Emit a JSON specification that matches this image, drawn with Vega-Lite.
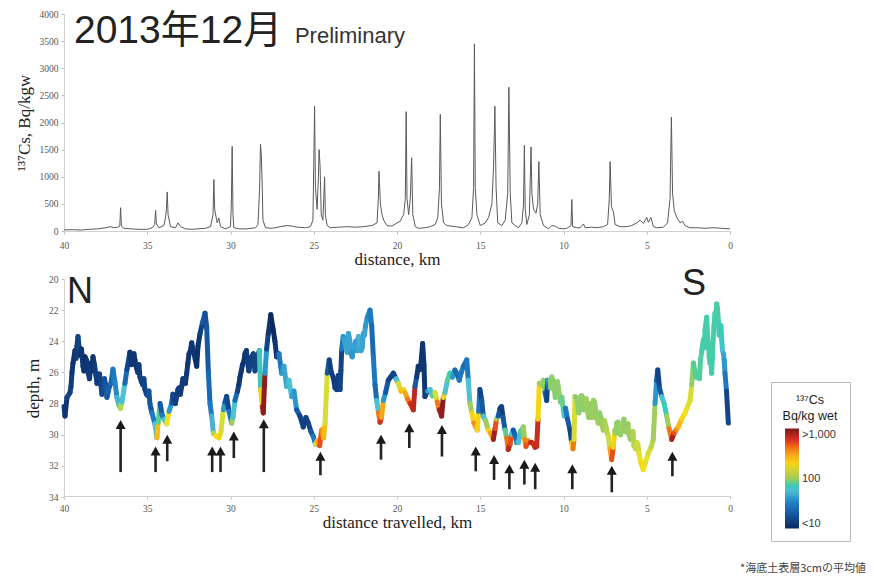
{
  "$schema": "https://vega.github.io/schema/vega-lite/v6.json",
  "width": 666,
  "height": 482,
  "autosize": {"type": "none"},
  "padding": {"left": 64, "top": 14, "right": 144, "bottom": 82},
  "background": "white",
  "config": {
    "view": {"stroke": null},
    "axis": {
      "labelFont": "Liberation Serif",
      "labelFontSize": 9.5,
      "labelColor": "#555",
      "titleFont": "Liberation Serif",
      "titleFontSize": 17,
      "titleFontWeight": "normal",
      "titleColor": "#222",
      "domainColor": "#d0d0d0",
      "tickColor": "#d8bcaa",
      "tickSize": 3,
      "grid": false,
      "labelFlush": false
    }
  },
  "datasets": {
    "sediment": [
      {"km": 40.0, "bq": 20}, {"km": 39.5, "bq": 25}, {"km": 39.0, "bq": 18}, {"km": 38.5, "bq": 30},
      {"km": 38.0, "bq": 40}, {"km": 37.5, "bq": 60}, {"km": 37.2, "bq": 80}, {"km": 37.0, "bq": 60},
      {"km": 36.8, "bq": 70}, {"km": 36.65, "bq": 90}, {"km": 36.6, "bq": 430}, {"km": 36.55, "bq": 90},
      {"km": 36.4, "bq": 50}, {"km": 36.0, "bq": 40}, {"km": 35.5, "bq": 30}, {"km": 35.0, "bq": 30},
      {"km": 34.7, "bq": 60}, {"km": 34.55, "bq": 120}, {"km": 34.5, "bq": 380}, {"km": 34.45, "bq": 130},
      {"km": 34.3, "bq": 60}, {"km": 34.0, "bq": 100}, {"km": 33.9, "bq": 250}, {"km": 33.85, "bq": 400},
      {"km": 33.8, "bq": 720}, {"km": 33.75, "bq": 300}, {"km": 33.6, "bq": 80}, {"km": 33.3, "bq": 60},
      {"km": 33.15, "bq": 150}, {"km": 33.0, "bq": 80}, {"km": 32.7, "bq": 40}, {"km": 32.3, "bq": 30},
      {"km": 32.0, "bq": 40}, {"km": 31.5, "bq": 50}, {"km": 31.2, "bq": 80}, {"km": 31.05, "bq": 300},
      {"km": 31.0, "bq": 950}, {"km": 30.95, "bq": 400}, {"km": 30.8, "bq": 150}, {"km": 30.7, "bq": 240},
      {"km": 30.6, "bq": 80}, {"km": 30.3, "bq": 40}, {"km": 30.0, "bq": 80}, {"km": 29.95, "bq": 500},
      {"km": 29.9, "bq": 1560}, {"km": 29.85, "bq": 300}, {"km": 29.8, "bq": 60}, {"km": 29.5, "bq": 40},
      {"km": 29.0, "bq": 40}, {"km": 28.5, "bq": 60}, {"km": 28.35, "bq": 120}, {"km": 28.25, "bq": 800},
      {"km": 28.2, "bq": 1600}, {"km": 28.15, "bq": 1400}, {"km": 28.1, "bq": 900}, {"km": 28.05, "bq": 200},
      {"km": 27.9, "bq": 60}, {"km": 27.5, "bq": 50}, {"km": 27.0, "bq": 80}, {"km": 26.6, "bq": 100},
      {"km": 26.3, "bq": 90}, {"km": 26.0, "bq": 70}, {"km": 25.5, "bq": 60}, {"km": 25.2, "bq": 80},
      {"km": 25.05, "bq": 200}, {"km": 25.0, "bq": 1200}, {"km": 24.95, "bq": 2300}, {"km": 24.9, "bq": 800},
      {"km": 24.8, "bq": 400}, {"km": 24.72, "bq": 1000}, {"km": 24.68, "bq": 1500}, {"km": 24.62, "bq": 1200},
      {"km": 24.55, "bq": 300}, {"km": 24.45, "bq": 200}, {"km": 24.35, "bq": 1000}, {"km": 24.3, "bq": 300},
      {"km": 24.2, "bq": 100}, {"km": 24.0, "bq": 60}, {"km": 23.5, "bq": 70}, {"km": 23.0, "bq": 80},
      {"km": 22.5, "bq": 70}, {"km": 22.0, "bq": 80}, {"km": 21.5, "bq": 100}, {"km": 21.2, "bq": 150},
      {"km": 21.12, "bq": 600}, {"km": 21.08, "bq": 1100}, {"km": 21.0, "bq": 500}, {"km": 20.9, "bq": 300},
      {"km": 20.8, "bq": 200}, {"km": 20.6, "bq": 100}, {"km": 20.3, "bq": 90}, {"km": 20.0, "bq": 150},
      {"km": 19.8, "bq": 180}, {"km": 19.7, "bq": 250}, {"km": 19.6, "bq": 300}, {"km": 19.5, "bq": 600},
      {"km": 19.45, "bq": 2200}, {"km": 19.4, "bq": 600}, {"km": 19.3, "bq": 300}, {"km": 19.2, "bq": 600},
      {"km": 19.12, "bq": 1350}, {"km": 19.05, "bq": 300}, {"km": 18.9, "bq": 80}, {"km": 18.7, "bq": 50},
      {"km": 18.3, "bq": 60}, {"km": 18.0, "bq": 80}, {"km": 17.7, "bq": 120}, {"km": 17.55, "bq": 250},
      {"km": 17.45, "bq": 800}, {"km": 17.4, "bq": 2150}, {"km": 17.33, "bq": 500}, {"km": 17.2, "bq": 150},
      {"km": 17.0, "bq": 100}, {"km": 16.5, "bq": 80}, {"km": 16.0, "bq": 60}, {"km": 15.7, "bq": 120},
      {"km": 15.5, "bq": 250}, {"km": 15.4, "bq": 800}, {"km": 15.35, "bq": 3450}, {"km": 15.3, "bq": 800},
      {"km": 15.2, "bq": 300}, {"km": 15.0, "bq": 100}, {"km": 14.7, "bq": 150}, {"km": 14.5, "bq": 250},
      {"km": 14.3, "bq": 500}, {"km": 14.2, "bq": 1200}, {"km": 14.12, "bq": 2300}, {"km": 14.05, "bq": 800},
      {"km": 13.95, "bq": 150}, {"km": 13.7, "bq": 100}, {"km": 13.5, "bq": 200}, {"km": 13.35, "bq": 700},
      {"km": 13.28, "bq": 2650}, {"km": 13.2, "bq": 700}, {"km": 13.1, "bq": 150}, {"km": 12.9, "bq": 100},
      {"km": 12.7, "bq": 60}, {"km": 12.5, "bq": 150}, {"km": 12.4, "bq": 500}, {"km": 12.35, "bq": 1580},
      {"km": 12.3, "bq": 400}, {"km": 12.2, "bq": 120}, {"km": 12.05, "bq": 300}, {"km": 11.95, "bq": 1550},
      {"km": 11.9, "bq": 700}, {"km": 11.8, "bq": 400}, {"km": 11.65, "bq": 330}, {"km": 11.55, "bq": 500},
      {"km": 11.48, "bq": 1280}, {"km": 11.4, "bq": 300}, {"km": 11.2, "bq": 100}, {"km": 10.9, "bq": 40},
      {"km": 10.7, "bq": 100}, {"km": 10.5, "bq": 90}, {"km": 10.3, "bq": 50}, {"km": 10.0, "bq": 40},
      {"km": 9.8, "bq": 50}, {"km": 9.55, "bq": 100}, {"km": 9.5, "bq": 580}, {"km": 9.45, "bq": 80},
      {"km": 9.2, "bq": 60}, {"km": 9.0, "bq": 60}, {"km": 8.8, "bq": 130}, {"km": 8.7, "bq": 60},
      {"km": 8.3, "bq": 70}, {"km": 8.0, "bq": 60}, {"km": 7.6, "bq": 80}, {"km": 7.35, "bq": 120},
      {"km": 7.25, "bq": 600}, {"km": 7.2, "bq": 1280}, {"km": 7.12, "bq": 450}, {"km": 7.0, "bq": 350},
      {"km": 6.9, "bq": 120}, {"km": 6.6, "bq": 80}, {"km": 6.2, "bq": 80}, {"km": 5.9, "bq": 100},
      {"km": 5.6, "bq": 150}, {"km": 5.4, "bq": 200}, {"km": 5.2, "bq": 140}, {"km": 5.0, "bq": 250},
      {"km": 4.9, "bq": 160}, {"km": 4.75, "bq": 250}, {"km": 4.6, "bq": 80}, {"km": 4.4, "bq": 60},
      {"km": 4.0, "bq": 70}, {"km": 3.75, "bq": 150}, {"km": 3.6, "bq": 600}, {"km": 3.52, "bq": 2100},
      {"km": 3.45, "bq": 700}, {"km": 3.35, "bq": 380}, {"km": 3.2, "bq": 250}, {"km": 3.0, "bq": 150},
      {"km": 2.85, "bq": 180}, {"km": 2.7, "bq": 100}, {"km": 2.4, "bq": 60}, {"km": 2.0, "bq": 60},
      {"km": 1.5, "bq": 50}, {"km": 1.0, "bq": 60}, {"km": 0.5, "bq": 50}, {"km": 0.0, "bq": 40}
    ],
    "profile": [
      {"km": 40.0, "depth": 28.2, "bq": 15}, {"km": 39.94, "depth": 28.8, "bq": 12}, {"km": 39.82, "depth": 27.6, "bq": 15},
      {"km": 39.64, "depth": 27.3, "bq": 14}, {"km": 39.58, "depth": 26.9, "bq": 13}, {"km": 39.52, "depth": 26.0, "bq": 12},
      {"km": 39.46, "depth": 25.4, "bq": 12}, {"km": 39.34, "depth": 24.6, "bq": 12}, {"km": 39.28, "depth": 25.1, "bq": 13},
      {"km": 39.22, "depth": 24.3, "bq": 14}, {"km": 39.16, "depth": 23.7, "bq": 15}, {"km": 39.04, "depth": 24.9, "bq": 12},
      {"km": 38.95, "depth": 24.5, "bq": 12}, {"km": 38.86, "depth": 25.6, "bq": 12}, {"km": 38.8, "depth": 25.9, "bq": 12},
      {"km": 38.74, "depth": 25.0, "bq": 11}, {"km": 38.65, "depth": 25.2, "bq": 12}, {"km": 38.56, "depth": 26.0, "bq": 13},
      {"km": 38.47, "depth": 26.4, "bq": 13}, {"km": 38.38, "depth": 25.4, "bq": 12}, {"km": 38.32, "depth": 25.9, "bq": 12},
      {"km": 38.26, "depth": 25.0, "bq": 12}, {"km": 38.17, "depth": 25.5, "bq": 13}, {"km": 38.08, "depth": 26.2, "bq": 14},
      {"km": 38.02, "depth": 26.7, "bq": 14}, {"km": 37.96, "depth": 26.5, "bq": 13}, {"km": 37.87, "depth": 26.1, "bq": 14},
      {"km": 37.78, "depth": 26.8, "bq": 15}, {"km": 37.72, "depth": 27.4, "bq": 16}, {"km": 37.66, "depth": 27.1, "bq": 17},
      {"km": 37.57, "depth": 26.4, "bq": 18}, {"km": 37.48, "depth": 26.9, "bq": 20}, {"km": 37.42, "depth": 27.6, "bq": 20},
      {"km": 37.36, "depth": 27.3, "bq": 22}, {"km": 37.27, "depth": 26.9, "bq": 22}, {"km": 37.18, "depth": 26.7, "bq": 25},
      {"km": 37.06, "depth": 25.8, "bq": 30}, {"km": 36.94, "depth": 26.6, "bq": 35}, {"km": 36.82, "depth": 27.6, "bq": 50},
      {"km": 36.7, "depth": 28.1, "bq": 80}, {"km": 36.61, "depth": 28.3, "bq": 120}, {"km": 36.52, "depth": 27.9, "bq": 60},
      {"km": 36.34, "depth": 26.7, "bq": 25}, {"km": 36.22, "depth": 25.8, "bq": 15}, {"km": 36.04, "depth": 24.7, "bq": 12},
      {"km": 35.95, "depth": 25.5, "bq": 12}, {"km": 35.86, "depth": 25.1, "bq": 12}, {"km": 35.8, "depth": 24.8, "bq": 12},
      {"km": 35.74, "depth": 25.2, "bq": 12}, {"km": 35.65, "depth": 25.7, "bq": 12}, {"km": 35.56, "depth": 26.0, "bq": 13},
      {"km": 35.5, "depth": 25.5, "bq": 13}, {"km": 35.44, "depth": 26.3, "bq": 14}, {"km": 35.35, "depth": 26.6, "bq": 14},
      {"km": 35.26, "depth": 26.8, "bq": 15}, {"km": 35.2, "depth": 26.4, "bq": 15}, {"km": 35.14, "depth": 27.1, "bq": 15},
      {"km": 35.05, "depth": 27.4, "bq": 16}, {"km": 34.96, "depth": 27.5, "bq": 18}, {"km": 34.9, "depth": 27.2, "bq": 18},
      {"km": 34.84, "depth": 28.0, "bq": 20}, {"km": 34.78, "depth": 28.3, "bq": 20}, {"km": 34.72, "depth": 28.6, "bq": 30},
      {"km": 34.54, "depth": 29.3, "bq": 60}, {"km": 34.42, "depth": 30.2, "bq": 250}, {"km": 34.34, "depth": 29.2, "bq": 80},
      {"km": 34.23, "depth": 28.0, "bq": 20}, {"km": 34.11, "depth": 28.7, "bq": 30}, {"km": 33.99, "depth": 29.0, "bq": 60},
      {"km": 33.83, "depth": 29.3, "bq": 180}, {"km": 33.69, "depth": 28.5, "bq": 40}, {"km": 33.53, "depth": 27.96, "bq": 20},
      {"km": 33.46, "depth": 27.4, "bq": 15}, {"km": 33.39, "depth": 27.8, "bq": 15}, {"km": 33.31, "depth": 28.0, "bq": 14},
      {"km": 33.23, "depth": 27.55, "bq": 14}, {"km": 33.16, "depth": 27.1, "bq": 14}, {"km": 33.09, "depth": 27.0, "bq": 14},
      {"km": 33.01, "depth": 27.4, "bq": 13}, {"km": 32.93, "depth": 26.9, "bq": 13}, {"km": 32.86, "depth": 26.4, "bq": 13},
      {"km": 32.79, "depth": 26.4, "bq": 13}, {"km": 32.71, "depth": 26.7, "bq": 13}, {"km": 32.63, "depth": 26.05, "bq": 12},
      {"km": 32.56, "depth": 25.4, "bq": 12}, {"km": 32.49, "depth": 24.8, "bq": 12}, {"km": 32.41, "depth": 24.6, "bq": 12},
      {"km": 32.33, "depth": 24.1, "bq": 12}, {"km": 32.26, "depth": 24.5, "bq": 12}, {"km": 32.19, "depth": 24.8, "bq": 12},
      {"km": 32.11, "depth": 25.2, "bq": 12}, {"km": 32.03, "depth": 25.6, "bq": 11}, {"km": 31.95, "depth": 24.3, "bq": 12},
      {"km": 31.83, "depth": 23.5, "bq": 14}, {"km": 31.68, "depth": 22.8, "bq": 20}, {"km": 31.53, "depth": 22.2, "bq": 18},
      {"km": 31.43, "depth": 23.1, "bq": 20}, {"km": 31.33, "depth": 26.0, "bq": 25}, {"km": 31.23, "depth": 28.0, "bq": 30},
      {"km": 31.13, "depth": 28.8, "bq": 50}, {"km": 31.03, "depth": 29.9, "bq": 120}, {"km": 30.87, "depth": 30.1, "bq": 180},
      {"km": 30.69, "depth": 30.2, "bq": 200}, {"km": 30.57, "depth": 29.8, "bq": 150}, {"km": 30.43, "depth": 28.4, "bq": 40},
      {"km": 30.33, "depth": 27.9, "bq": 20}, {"km": 30.23, "depth": 27.55, "bq": 15}, {"km": 30.09, "depth": 28.5, "bq": 30},
      {"km": 29.93, "depth": 29.25, "bq": 100}, {"km": 29.85, "depth": 28.9, "bq": 60}, {"km": 29.73, "depth": 27.8, "bq": 25},
      {"km": 29.58, "depth": 27.2, "bq": 15}, {"km": 29.5, "depth": 26.8, "bq": 12}, {"km": 29.43, "depth": 26.3, "bq": 12},
      {"km": 29.35, "depth": 25.9, "bq": 12}, {"km": 29.28, "depth": 25.5, "bq": 12}, {"km": 29.2, "depth": 25.3, "bq": 12},
      {"km": 29.13, "depth": 24.8, "bq": 12}, {"km": 29.05, "depth": 24.6, "bq": 13}, {"km": 28.98, "depth": 25.3, "bq": 14},
      {"km": 28.9, "depth": 25.9, "bq": 14}, {"km": 28.83, "depth": 25.6, "bq": 14}, {"km": 28.73, "depth": 25.0, "bq": 14},
      {"km": 28.63, "depth": 24.8, "bq": 14}, {"km": 28.53, "depth": 25.9, "bq": 15}, {"km": 28.43, "depth": 25.6, "bq": 15},
      {"km": 28.35, "depth": 24.9, "bq": 15}, {"km": 28.27, "depth": 24.6, "bq": 70}, {"km": 28.19, "depth": 27.1, "bq": 200},
      {"km": 28.09, "depth": 28.2, "bq": 700}, {"km": 28.03, "depth": 28.6, "bq": 900}, {"km": 27.93, "depth": 26.05, "bq": 40},
      {"km": 27.83, "depth": 24.5, "bq": 15}, {"km": 27.73, "depth": 23.5, "bq": 12}, {"km": 27.58, "depth": 22.3, "bq": 10},
      {"km": 27.43, "depth": 23.3, "bq": 10}, {"km": 27.33, "depth": 24.0, "bq": 12}, {"km": 27.23, "depth": 25.0, "bq": 14},
      {"km": 27.09, "depth": 24.8, "bq": 30}, {"km": 26.93, "depth": 26.05, "bq": 40}, {"km": 26.79, "depth": 25.6, "bq": 45},
      {"km": 26.63, "depth": 26.9, "bq": 50}, {"km": 26.49, "depth": 26.5, "bq": 60}, {"km": 26.33, "depth": 27.55, "bq": 45},
      {"km": 26.19, "depth": 27.2, "bq": 40}, {"km": 26.03, "depth": 28.4, "bq": 20}, {"km": 25.83, "depth": 28.8, "bq": 15},
      {"km": 25.63, "depth": 29.5, "bq": 14}, {"km": 25.47, "depth": 28.9, "bq": 14}, {"km": 25.33, "depth": 29.25, "bq": 15},
      {"km": 25.17, "depth": 29.8, "bq": 20}, {"km": 25.03, "depth": 30.1, "bq": 30}, {"km": 24.9, "depth": 30.6, "bq": 150},
      {"km": 24.79, "depth": 30.4, "bq": 300}, {"km": 24.65, "depth": 30.7, "bq": 500}, {"km": 24.52, "depth": 29.7, "bq": 350},
      {"km": 24.41, "depth": 30.2, "bq": 250}, {"km": 24.32, "depth": 29.25, "bq": 150}, {"km": 24.19, "depth": 26.05, "bq": 20},
      {"km": 24.07, "depth": 25.2, "bq": 14}, {"km": 23.95, "depth": 26.0, "bq": 14}, {"km": 23.83, "depth": 26.3, "bq": 13},
      {"km": 23.72, "depth": 27.0, "bq": 14}, {"km": 23.62, "depth": 27.1, "bq": 14}, {"km": 23.52, "depth": 26.2, "bq": 14},
      {"km": 23.42, "depth": 27.1, "bq": 15}, {"km": 23.37, "depth": 25.9, "bq": 15}, {"km": 23.32, "depth": 24.5, "bq": 30},
      {"km": 23.23, "depth": 23.7, "bq": 40}, {"km": 23.15, "depth": 23.9, "bq": 45}, {"km": 23.06, "depth": 24.4, "bq": 45},
      {"km": 22.99, "depth": 24.7, "bq": 45}, {"km": 22.92, "depth": 23.5, "bq": 45}, {"km": 22.84, "depth": 23.9, "bq": 45},
      {"km": 22.76, "depth": 24.8, "bq": 40}, {"km": 22.69, "depth": 25.0, "bq": 40}, {"km": 22.62, "depth": 24.4, "bq": 45},
      {"km": 22.54, "depth": 24.2, "bq": 45}, {"km": 22.46, "depth": 24.0, "bq": 40}, {"km": 22.39, "depth": 24.6, "bq": 45},
      {"km": 22.32, "depth": 23.7, "bq": 50}, {"km": 22.24, "depth": 23.8, "bq": 50}, {"km": 22.16, "depth": 24.6, "bq": 45},
      {"km": 22.09, "depth": 24.4, "bq": 45}, {"km": 22.02, "depth": 23.5, "bq": 45}, {"km": 21.95, "depth": 23.6, "bq": 45},
      {"km": 21.89, "depth": 23.0, "bq": 40}, {"km": 21.78, "depth": 22.45, "bq": 35}, {"km": 21.62, "depth": 22.0, "bq": 30},
      {"km": 21.52, "depth": 23.0, "bq": 25}, {"km": 21.42, "depth": 25.0, "bq": 30}, {"km": 21.32, "depth": 26.8, "bq": 25},
      {"km": 21.22, "depth": 27.8, "bq": 60}, {"km": 21.11, "depth": 28.6, "bq": 400}, {"km": 21.02, "depth": 29.2, "bq": 600},
      {"km": 20.93, "depth": 28.9, "bq": 300}, {"km": 20.82, "depth": 27.8, "bq": 40}, {"km": 20.69, "depth": 27.3, "bq": 20},
      {"km": 20.52, "depth": 26.5, "bq": 15}, {"km": 20.39, "depth": 26.3, "bq": 14}, {"km": 20.22, "depth": 26.05, "bq": 15},
      {"km": 20.06, "depth": 26.4, "bq": 60}, {"km": 19.92, "depth": 26.7, "bq": 150}, {"km": 19.76, "depth": 27.2, "bq": 250},
      {"km": 19.62, "depth": 27.1, "bq": 200}, {"km": 19.52, "depth": 27.3, "bq": 300}, {"km": 19.37, "depth": 27.7, "bq": 400},
      {"km": 19.22, "depth": 27.98, "bq": 600}, {"km": 19.02, "depth": 28.4, "bq": 700}, {"km": 18.92, "depth": 26.9, "bq": 20},
      {"km": 18.82, "depth": 26.3, "bq": 12}, {"km": 18.72, "depth": 25.6, "bq": 12}, {"km": 18.59, "depth": 25.8, "bq": 12},
      {"km": 18.46, "depth": 24.15, "bq": 12}, {"km": 18.38, "depth": 25.5, "bq": 12}, {"km": 18.32, "depth": 27.55, "bq": 14},
      {"km": 18.17, "depth": 27.2, "bq": 40}, {"km": 18.02, "depth": 27.1, "bq": 60}, {"km": 17.87, "depth": 27.5, "bq": 80},
      {"km": 17.72, "depth": 27.3, "bq": 150}, {"km": 17.58, "depth": 27.9, "bq": 400}, {"km": 17.46, "depth": 28.4, "bq": 800},
      {"km": 17.32, "depth": 28.8, "bq": 900}, {"km": 17.22, "depth": 27.6, "bq": 200}, {"km": 17.12, "depth": 27.3, "bq": 60},
      {"km": 16.97, "depth": 26.5, "bq": 80}, {"km": 16.82, "depth": 26.05, "bq": 70}, {"km": 16.67, "depth": 26.3, "bq": 40},
      {"km": 16.52, "depth": 25.85, "bq": 25}, {"km": 16.4, "depth": 26.1, "bq": 25}, {"km": 16.26, "depth": 26.5, "bq": 30},
      {"km": 16.14, "depth": 26.0, "bq": 30}, {"km": 16.01, "depth": 25.6, "bq": 25}, {"km": 15.81, "depth": 25.2, "bq": 30},
      {"km": 15.72, "depth": 26.5, "bq": 60}, {"km": 15.62, "depth": 27.98, "bq": 100}, {"km": 15.5, "depth": 28.6, "bq": 200},
      {"km": 15.38, "depth": 29.25, "bq": 350}, {"km": 15.27, "depth": 29.5, "bq": 300}, {"km": 15.17, "depth": 29.7, "bq": 200},
      {"km": 15.1, "depth": 28.5, "bq": 30}, {"km": 15.02, "depth": 27.1, "bq": 15}, {"km": 14.91, "depth": 27.8, "bq": 20},
      {"km": 14.82, "depth": 28.8, "bq": 60}, {"km": 14.68, "depth": 29.1, "bq": 100}, {"km": 14.52, "depth": 29.7, "bq": 200},
      {"km": 14.38, "depth": 29.9, "bq": 300}, {"km": 14.21, "depth": 30.3, "bq": 800}, {"km": 14.11, "depth": 29.6, "bq": 500},
      {"km": 14.02, "depth": 29.0, "bq": 100}, {"km": 13.92, "depth": 28.8, "bq": 20}, {"km": 13.81, "depth": 28.3, "bq": 14},
      {"km": 13.72, "depth": 28.2, "bq": 14}, {"km": 13.63, "depth": 28.9, "bq": 20}, {"km": 13.51, "depth": 29.7, "bq": 80},
      {"km": 13.41, "depth": 30.2, "bq": 400}, {"km": 13.32, "depth": 30.95, "bq": 700}, {"km": 13.21, "depth": 30.6, "bq": 500},
      {"km": 13.12, "depth": 30.0, "bq": 60}, {"km": 13.02, "depth": 29.7, "bq": 20}, {"km": 12.91, "depth": 30.0, "bq": 25},
      {"km": 12.81, "depth": 30.5, "bq": 40}, {"km": 12.71, "depth": 30.5, "bq": 60}, {"km": 12.58, "depth": 29.8, "bq": 80},
      {"km": 12.41, "depth": 29.5, "bq": 100}, {"km": 12.34, "depth": 30.3, "bq": 350}, {"km": 12.25, "depth": 30.75, "bq": 500},
      {"km": 12.13, "depth": 30.4, "bq": 350}, {"km": 12.01, "depth": 30.5, "bq": 600}, {"km": 11.91, "depth": 30.5, "bq": 700},
      {"km": 11.8, "depth": 30.6, "bq": 600}, {"km": 11.71, "depth": 30.8, "bq": 700}, {"km": 11.61, "depth": 30.75, "bq": 650},
      {"km": 11.53, "depth": 29.0, "bq": 200}, {"km": 11.45, "depth": 26.7, "bq": 100}, {"km": 11.32, "depth": 26.8, "bq": 100},
      {"km": 11.21, "depth": 26.5, "bq": 95}, {"km": 11.11, "depth": 27.3, "bq": 25}, {"km": 11.01, "depth": 27.8, "bq": 15},
      {"km": 10.95, "depth": 26.5, "bq": 40}, {"km": 10.9, "depth": 27.0, "bq": 25}, {"km": 10.81, "depth": 26.5, "bq": 90},
      {"km": 10.76, "depth": 27.0, "bq": 95}, {"km": 10.71, "depth": 26.3, "bq": 95}, {"km": 10.64, "depth": 26.5, "bq": 95},
      {"km": 10.57, "depth": 27.0, "bq": 95}, {"km": 10.49, "depth": 27.6, "bq": 90}, {"km": 10.41, "depth": 27.3, "bq": 95},
      {"km": 10.36, "depth": 26.6, "bq": 95}, {"km": 10.3, "depth": 27.0, "bq": 95}, {"km": 10.24, "depth": 27.5, "bq": 95},
      {"km": 10.18, "depth": 27.9, "bq": 90}, {"km": 10.1, "depth": 27.6, "bq": 85}, {"km": 10.01, "depth": 28.4, "bq": 75},
      {"km": 9.95, "depth": 28.8, "bq": 60}, {"km": 9.88, "depth": 28.3, "bq": 30}, {"km": 9.76, "depth": 29.0, "bq": 20},
      {"km": 9.61, "depth": 29.7, "bq": 15}, {"km": 9.51, "depth": 30.5, "bq": 200}, {"km": 9.43, "depth": 30.9, "bq": 400},
      {"km": 9.37, "depth": 30.3, "bq": 150}, {"km": 9.31, "depth": 27.55, "bq": 95}, {"km": 9.23, "depth": 27.6, "bq": 95},
      {"km": 9.16, "depth": 28.0, "bq": 95}, {"km": 9.08, "depth": 28.6, "bq": 95}, {"km": 9.01, "depth": 28.2, "bq": 95},
      {"km": 8.93, "depth": 27.5, "bq": 95}, {"km": 8.86, "depth": 27.6, "bq": 95}, {"km": 8.78, "depth": 28.4, "bq": 95},
      {"km": 8.71, "depth": 27.98, "bq": 95}, {"km": 8.63, "depth": 27.7, "bq": 100}, {"km": 8.56, "depth": 28.5, "bq": 100},
      {"km": 8.48, "depth": 28.9, "bq": 95}, {"km": 8.41, "depth": 28.8, "bq": 95}, {"km": 8.36, "depth": 28.0, "bq": 95},
      {"km": 8.31, "depth": 28.3, "bq": 95}, {"km": 8.26, "depth": 28.9, "bq": 100}, {"km": 8.21, "depth": 27.8, "bq": 100},
      {"km": 8.13, "depth": 27.9, "bq": 95}, {"km": 8.05, "depth": 28.6, "bq": 95}, {"km": 7.98, "depth": 29.0, "bq": 100},
      {"km": 7.91, "depth": 29.25, "bq": 100}, {"km": 7.83, "depth": 28.6, "bq": 95}, {"km": 7.75, "depth": 28.9, "bq": 95},
      {"km": 7.68, "depth": 29.4, "bq": 100}, {"km": 7.61, "depth": 29.7, "bq": 100}, {"km": 7.53, "depth": 29.1, "bq": 110},
      {"km": 7.45, "depth": 29.5, "bq": 110}, {"km": 7.38, "depth": 29.9, "bq": 120}, {"km": 7.31, "depth": 30.1, "bq": 140},
      {"km": 7.21, "depth": 30.9, "bq": 300}, {"km": 7.11, "depth": 31.6, "bq": 500}, {"km": 7.01, "depth": 30.8, "bq": 200},
      {"km": 6.91, "depth": 29.7, "bq": 100}, {"km": 6.85, "depth": 29.9, "bq": 95}, {"km": 6.8, "depth": 29.25, "bq": 95},
      {"km": 6.73, "depth": 29.2, "bq": 95}, {"km": 6.67, "depth": 29.8, "bq": 95}, {"km": 6.58, "depth": 30.0, "bq": 95},
      {"km": 6.5, "depth": 29.7, "bq": 100}, {"km": 6.43, "depth": 29.3, "bq": 100}, {"km": 6.37, "depth": 29.0, "bq": 95},
      {"km": 6.28, "depth": 29.8, "bq": 95}, {"km": 6.2, "depth": 29.5, "bq": 100}, {"km": 6.13, "depth": 29.3, "bq": 100},
      {"km": 6.07, "depth": 30.0, "bq": 95}, {"km": 5.98, "depth": 30.3, "bq": 100}, {"km": 5.9, "depth": 30.1, "bq": 110},
      {"km": 5.83, "depth": 29.8, "bq": 110}, {"km": 5.77, "depth": 30.7, "bq": 120}, {"km": 5.68, "depth": 30.9, "bq": 130},
      {"km": 5.6, "depth": 30.5, "bq": 140}, {"km": 5.53, "depth": 30.6, "bq": 140}, {"km": 5.47, "depth": 31.2, "bq": 170},
      {"km": 5.35, "depth": 31.8, "bq": 190}, {"km": 5.21, "depth": 32.25, "bq": 180}, {"km": 5.08, "depth": 31.8, "bq": 160},
      {"km": 4.91, "depth": 31.2, "bq": 150}, {"km": 4.74, "depth": 30.8, "bq": 120}, {"km": 4.61, "depth": 30.3, "bq": 100},
      {"km": 4.5, "depth": 28.0, "bq": 40}, {"km": 4.41, "depth": 26.5, "bq": 20}, {"km": 4.34, "depth": 25.85, "bq": 15},
      {"km": 4.23, "depth": 27.0, "bq": 20}, {"km": 4.1, "depth": 27.55, "bq": 60}, {"km": 3.96, "depth": 28.0, "bq": 70},
      {"km": 3.8, "depth": 28.8, "bq": 100}, {"km": 3.66, "depth": 29.6, "bq": 400}, {"km": 3.5, "depth": 30.3, "bq": 800},
      {"km": 3.36, "depth": 29.9, "bq": 500}, {"km": 3.24, "depth": 29.7, "bq": 350}, {"km": 3.11, "depth": 29.5, "bq": 250},
      {"km": 2.91, "depth": 29.0, "bq": 200}, {"km": 2.7, "depth": 28.6, "bq": 180}, {"km": 2.55, "depth": 28.2, "bq": 160},
      {"km": 2.4, "depth": 27.8, "bq": 150}, {"km": 2.3, "depth": 26.8, "bq": 95}, {"km": 2.2, "depth": 25.4, "bq": 80},
      {"km": 2.04, "depth": 26.3, "bq": 80}, {"km": 1.9, "depth": 26.05, "bq": 78}, {"km": 1.84, "depth": 26.4, "bq": 78},
      {"km": 1.77, "depth": 25.2, "bq": 78}, {"km": 1.69, "depth": 24.6, "bq": 75}, {"km": 1.6, "depth": 23.9, "bq": 75},
      {"km": 1.55, "depth": 24.4, "bq": 75}, {"km": 1.5, "depth": 23.3, "bq": 75}, {"km": 1.45, "depth": 22.9, "bq": 75},
      {"km": 1.4, "depth": 22.45, "bq": 75}, {"km": 1.35, "depth": 23.6, "bq": 75}, {"km": 1.29, "depth": 24.3, "bq": 75},
      {"km": 1.25, "depth": 25.0, "bq": 75}, {"km": 1.2, "depth": 25.4, "bq": 75}, {"km": 1.15, "depth": 25.3, "bq": 75},
      {"km": 1.1, "depth": 26.05, "bq": 75}, {"km": 1.06, "depth": 25.1, "bq": 75}, {"km": 1.02, "depth": 24.0, "bq": 75},
      {"km": 0.96, "depth": 23.0, "bq": 75}, {"km": 0.9, "depth": 22.2, "bq": 75}, {"km": 0.85, "depth": 22.6, "bq": 75},
      {"km": 0.8, "depth": 21.6, "bq": 75}, {"km": 0.75, "depth": 21.9, "bq": 75}, {"km": 0.69, "depth": 22.8, "bq": 75},
      {"km": 0.65, "depth": 23.6, "bq": 75}, {"km": 0.6, "depth": 23.4, "bq": 70}, {"km": 0.55, "depth": 23.0, "bq": 70},
      {"km": 0.5, "depth": 23.9, "bq": 65}, {"km": 0.45, "depth": 24.6, "bq": 55}, {"km": 0.39, "depth": 24.8, "bq": 45},
      {"km": 0.35, "depth": 25.2, "bq": 40}, {"km": 0.3, "depth": 26.05, "bq": 30}, {"km": 0.21, "depth": 27.2, "bq": 15},
      {"km": 0.1, "depth": 29.25, "bq": 10}
    ],
    "arrows": [
      {"km": 36.6, "tip": 29.05, "tail": 32.4}, {"km": 34.5, "tip": 30.75, "tail": 32.4},
      {"km": 33.8, "tip": 30.0, "tail": 31.7}, {"km": 31.1, "tip": 30.75, "tail": 32.4},
      {"km": 30.6, "tip": 30.75, "tail": 32.4}, {"km": 29.8, "tip": 29.8, "tail": 31.5},
      {"km": 28.0, "tip": 29.0, "tail": 32.4}, {"km": 24.6, "tip": 31.1, "tail": 32.6},
      {"km": 20.96, "tip": 30.0, "tail": 31.6}, {"km": 19.26, "tip": 29.26, "tail": 30.85},
      {"km": 17.3, "tip": 29.37, "tail": 31.4}, {"km": 15.27, "tip": 30.75, "tail": 32.35},
      {"km": 14.17, "tip": 31.3, "tail": 32.9}, {"km": 13.25, "tip": 31.9, "tail": 33.5},
      {"km": 12.35, "tip": 31.6, "tail": 33.2}, {"km": 11.7, "tip": 31.8, "tail": 33.5},
      {"km": 9.47, "tip": 31.9, "tail": 33.5}, {"km": 7.1, "tip": 32.0, "tail": 33.7},
      {"km": 3.46, "tip": 31.1, "tail": 32.67}
    ]
  },
  "layer": [
    {
      "layer": [
        {
          "data": {"name": "sediment"},
          "mark": {"type": "line", "color": "#5a5a5a", "strokeWidth": 1},
          "encoding": {
            "x": {
              "field": "km", "type": "quantitative",
              "scale": {"domain": [0, 40], "reverse": true, "nice": false},
              "axis": {"orient": "bottom", "offset": -265, "values": [0, 5, 10, 15, 20, 25, 30, 35, 40], "format": "d", "title": "distance, km", "labelPadding": 6, "titlePadding": 2}
            },
            "y": {
              "field": "bq", "type": "quantitative",
              "scale": {"domain": [0, 4000], "range": [217, 0], "nice": false},
              "axis": {"orient": "left", "values": [0, 500, 1000, 1500, 2000, 2500, 3000, 3500, 4000], "format": "d", "title": "¹³⁷Cs, Bq/kgw", "labelPadding": 3, "titlePadding": 6}
            }
          }
        },
        {
          "data": {"values": [{"label": "2013年12月"}]},
          "mark": {"type": "text", "align": "left", "baseline": "alphabetic", "font": "Liberation Sans, Noto Sans CJK JP", "fontSize": 39, "color": "#222"},
          "encoding": {
            "x": {"datum": 39.4, "type": "quantitative"},
            "y": {"datum": 3465, "type": "quantitative"},
            "text": {"field": "label"}
          }
        },
        {
          "data": {"values": [{"label": "Preliminary"}]},
          "mark": {"type": "text", "align": "left", "baseline": "alphabetic", "font": "Liberation Sans", "fontSize": 22, "color": "#333"},
          "encoding": {
            "x": {"datum": 26.13, "type": "quantitative"},
            "y": {"datum": 3465, "type": "quantitative"},
            "text": {"field": "label"}
          }
        }
      ]
    },
    {
      "layer": [
        {
          "data": {"name": "profile"},
          "transform": [
            {"window": [{"op": "lead", "field": "km", "as": "km2"}, {"op": "lead", "field": "depth", "as": "depth2"}], "sort": [{"field": "km", "order": "descending"}]},
            {"filter": "datum.km2 != null"}
          ],
          "mark": {"type": "rule", "strokeWidth": 5, "strokeCap": "round"},
          "encoding": {
            "x": {
              "field": "km", "type": "quantitative",
              "scale": {"domain": [0, 40], "reverse": true, "nice": false},
              "axis": {"orient": "bottom", "values": [0, 5, 10, 15, 20, 25, 30, 35, 40], "format": "d", "title": "distance travelled, km", "labelPadding": 4, "titlePadding": 2}
            },
            "x2": {"field": "km2"},
            "y": {
              "field": "depth", "type": "quantitative",
              "scale": {"domain": [20, 34], "range": [265, 483], "nice": false, "zero": false},
              "axis": {"orient": "left", "values": [20, 22, 24, 26, 28, 30, 32, 34], "format": "d", "title": "depth, m", "labelPadding": 3, "titlePadding": 6}
            },
            "y2": {"field": "depth2"},
            "color": {
              "field": "bq", "type": "quantitative",
              "scale": {
                "type": "log",
                "domain": [10, 17.78, 31.62, 56.23, 100, 177.8, 316.2, 562.3, 1000],
                "range": ["#0b2a5f", "#15509a", "#1f7cc4", "#5bbcd6", "#a2cd5c", "#f4e11c", "#f6a01c", "#e3321e", "#7c1b1b"],
                "clamp": true
              },
              "legend": {
                "orient": "none",
                "legendX": 707,
                "legendY": 368,
                "direction": "vertical",
                "title": ["¹³⁷Cs", "Bq/kg wet"],
                "titleFont": "Liberation Sans",
                "titleFontSize": 12.5,
                "titleFontWeight": "normal",
                "titleColor": "#222",
                "titleAlign": "center",
                "titleAnchor": "middle",
                "titleLineHeight": 16,
                "titlePadding": 6,
                "gradientLength": 100,
                "gradientThickness": 14,
                "gradientStrokeWidth": 0,
                "labelFont": "Liberation Sans",
                "labelFontSize": 11,
                "labelColor": "#333",
                "labelOffset": 3,
                "labelOverlap": false,
                "values": [10, 100, 1000],
                "labelExpr": "datum.value >= 1000 ? '>1,000' : (datum.value <= 10 ? '<10' : '100')",
                "strokeColor": "#bbbbbb",
                "padding": 12
              }
            }
          }
        },
        {
          "data": {"name": "arrows"},
          "mark": {"type": "rule", "color": "#222", "strokeWidth": 2.6, "y2Offset": 6},
          "encoding": {
            "x": {"field": "km", "type": "quantitative"},
            "y": {"field": "tail", "type": "quantitative"},
            "y2": {"field": "tip"}
          }
        },
        {
          "data": {"name": "arrows"},
          "mark": {"type": "point", "shape": "M0,0L0.5,0.9L-0.5,0.9Z", "filled": true, "color": "#1a1a1a", "size": 400, "opacity": 1},
          "encoding": {
            "x": {"field": "km", "type": "quantitative"},
            "y": {"field": "tip", "type": "quantitative"}
          }
        },
        {
          "data": {"values": [{"label": "N"}]},
          "mark": {"type": "text", "align": "left", "baseline": "alphabetic", "font": "Liberation Sans", "fontSize": 36, "color": "#222"},
          "encoding": {
            "x": {"datum": 39.82, "type": "quantitative"},
            "y": {"datum": 21.54, "type": "quantitative"},
            "text": {"field": "label"}
          }
        },
        {
          "data": {"values": [{"label": "S"}]},
          "mark": {"type": "text", "align": "left", "baseline": "alphabetic", "font": "Liberation Sans", "fontSize": 36, "color": "#222"},
          "encoding": {
            "x": {"datum": 2.88, "type": "quantitative"},
            "y": {"datum": 21.03, "type": "quantitative"},
            "text": {"field": "label"}
          }
        },
        {
          "data": {"values": [{"note": "*海底土表層3cmの平均値"}]},
          "mark": {"type": "text", "align": "left", "baseline": "alphabetic", "font": "Noto Sans CJK JP", "fontSize": 11, "color": "#444"},
          "encoding": {
            "x": {"datum": -0.6, "type": "quantitative"},
            "y": {"datum": 38.8, "type": "quantitative"},
            "text": {"field": "note"}
          }
        }
      ]
    }
  ],
  "resolve": {
    "scale": {"x": "independent", "y": "independent", "color": "independent"},
    "axis": {"x": "independent", "y": "independent"}
  }
}
